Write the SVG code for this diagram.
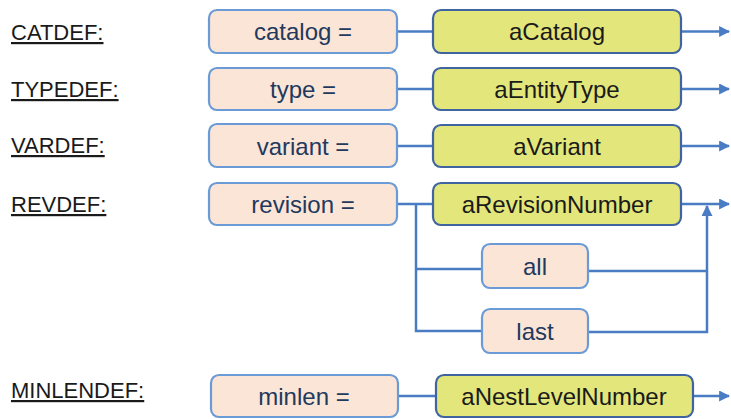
<svg xmlns="http://www.w3.org/2000/svg" width="731" height="419" viewBox="0 0 731 419">
<defs>
<marker id="ah" viewBox="0 0 10 10" refX="9" refY="5" markerWidth="4.4" markerHeight="4.4" orient="auto" markerUnits="strokeWidth">
<path d="M0,0 L10,5 L0,10 z" fill="#4a7cc4"/>
</marker>
<style>
.lbl{font-family:"Liberation Sans",Arial,sans-serif;font-size:22px;fill:#1a1a1a;text-decoration:underline}
.kw{fill:#fbe5d6;stroke:#6b9bd6;stroke-width:2.2}
.val{fill:#e3e67a;stroke:#3f64a0;stroke-width:2.2}
.kt{font-family:"Liberation Sans",Arial,sans-serif;font-size:24px;fill:#22395e;text-anchor:middle}
.vt{font-family:"Liberation Sans",Arial,sans-serif;font-size:24px;fill:#1a1a1a;text-anchor:middle}
.ln{fill:none;stroke:#4a7cc4;stroke-width:2.5}
</style>
</defs>
<rect width="731" height="419" fill="#ffffff"/>
<g id="labels">
<text class="lbl" x="11" y="40">CATDEF:</text>
<text class="lbl" x="11" y="97">TYPEDEF:</text>
<text class="lbl" x="11" y="153">VARDEF:</text>
<text class="lbl" x="11" y="212">REVDEF:</text>
<text class="lbl" x="11" y="398">MINLENDEF:</text>
</g>
<g id="connectors">
<path class="ln" d="M397,31.5 H433"/>
<path class="ln" d="M681,31.5 H729" marker-end="url(#ah)"/>
<path class="ln" d="M397,89 H433"/>
<path class="ln" d="M681,89 H729" marker-end="url(#ah)"/>
<path class="ln" d="M397,146 H433"/>
<path class="ln" d="M681,146 H729" marker-end="url(#ah)"/>
<path class="ln" d="M397,204 H433"/>
<path class="ln" d="M681,204 H729" marker-end="url(#ah)"/>
<path class="ln" d="M416,204 V331 H482"/>
<path class="ln" d="M416,269 H482"/>
<path class="ln" d="M588,271 H707"/>
<path class="ln" d="M588,332 H707 V206" marker-end="url(#ah)"/>
<path class="ln" d="M398,396 H436"/>
<path class="ln" d="M693,396 H729" marker-end="url(#ah)"/>
</g>
<g id="catalog"><rect class="kw" x="209" y="10" width="188" height="43" rx="8"/><text class="kt" x="303" y="40">catalog =</text></g>
<g id="aCatalog"><rect class="val" x="433" y="10" width="248" height="43" rx="8"/><text class="vt" x="557" y="40">aCatalog</text></g>
<g id="type"><rect class="kw" x="209" y="68" width="188" height="42" rx="8"/><text class="kt" x="303" y="97.5">type =</text></g>
<g id="aEntityType"><rect class="val" x="433" y="68" width="248" height="42" rx="8"/><text class="vt" x="557" y="97.5">aEntityType</text></g>
<g id="variant"><rect class="kw" x="209" y="124" width="188" height="43" rx="8"/><text class="kt" x="303" y="154.5">variant =</text></g>
<g id="aVariant"><rect class="val" x="433" y="125" width="248" height="42" rx="8"/><text class="vt" x="557" y="154.5">aVariant</text></g>
<g id="revision"><rect class="kw" x="209" y="183" width="188" height="42" rx="8"/><text class="kt" x="303" y="212.5">revision =</text></g>
<g id="aRevisionNumber"><rect class="val" x="433" y="183" width="248" height="42" rx="8"/><text class="vt" x="557" y="212.5">aRevisionNumber</text></g>
<g id="all"><rect class="kw" x="482" y="244" width="106" height="44" rx="8"/><text class="kt" x="535" y="274.5">all</text></g>
<g id="last"><rect class="kw" x="482" y="309" width="106" height="44" rx="8"/><text class="kt" x="535" y="339.5">last</text></g>
<g id="minlen"><rect class="kw" x="211" y="375" width="187" height="42" rx="8"/><text class="kt" x="304" y="404.5">minlen =</text></g>
<g id="aNestLevelNumber"><rect class="val" x="436" y="375" width="257" height="42" rx="8"/><text class="vt" x="564" y="404.5">aNestLevelNumber</text></g>
</svg>
